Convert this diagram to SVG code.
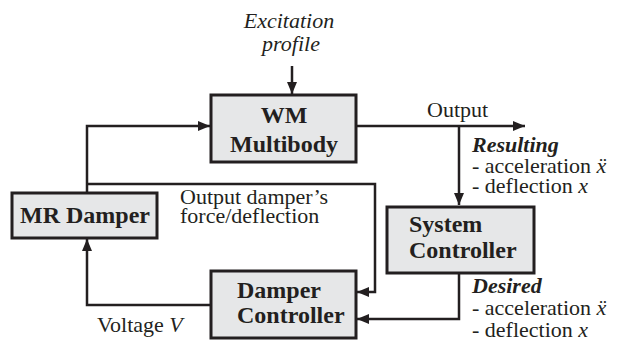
<svg xmlns="http://www.w3.org/2000/svg" width="620" height="342" viewBox="0 0 620 342">
<style>
text{font-family:'Liberation Serif','Times New Roman','DejaVu Serif',serif;fill:#231f20}
.bt{font-weight:bold;font-size:24px}
.t{font-size:22px}
.i{font-style:italic}
.b{font-weight:bold}
.box{fill:#e6e7e8;stroke:#231f20;stroke-width:3}
.ln{fill:none;stroke:#231f20;stroke-width:2.5}
</style>
<defs>
<marker id="ah" viewBox="0 0 12 10" refX="12" refY="5" markerWidth="12" markerHeight="10" markerUnits="userSpaceOnUse" orient="auto">
<path d="M0,0 L12,5 L0,10 Z" fill="#231f20"/>
</marker>
</defs>
<rect width="620" height="342" fill="#ffffff"/>
<g id="connectors">
<path class="ln" d="M292,66 V94" marker-end="url(#ah)"/>
<path class="ln" d="M87,193 V126 H210" marker-end="url(#ah)"/>
<path class="ln" d="M357,126 H525" marker-end="url(#ah)"/>
<path class="ln" d="M459,126 V205" marker-end="url(#ah)"/>
<path class="ln" d="M87,184 H375 V292 H357" marker-end="url(#ah)"/>
<path class="ln" d="M459,273 V319 H357" marker-end="url(#ah)"/>
<path class="ln" d="M211,305 H87 V239" marker-end="url(#ah)"/>
</g>
<g id="labels">
<text class="t i" x="289" y="28" text-anchor="middle">Excitation</text>
<text class="t i" x="291" y="51" text-anchor="middle">profile</text>
<text class="t" x="427" y="117">Output</text>
<text class="t i b" x="472" y="152">Resulting</text>
<text class="t" x="472" y="173">- acceleration <tspan class="i">ẍ</tspan></text>
<text class="t" x="472" y="193">- deflection <tspan class="i">x</tspan></text>
<text class="t" x="180" y="204">Output damper’s</text>
<text class="t" x="180" y="223">force/deflection</text>
<text class="t" x="97" y="332">Voltage <tspan class="i">V</tspan></text>
<text class="t i b" x="472" y="293">Desired</text>
<text class="t" x="472" y="315">- acceleration <tspan class="i">ẍ</tspan></text>
<text class="t" x="472" y="337">- deflection <tspan class="i">x</tspan></text>
</g>
<g id="wm">
<rect class="box" x="211" y="95" width="145" height="67"/>
<text class="bt" x="284" y="123" text-anchor="middle">WM</text>
<text class="bt" x="284" y="152" text-anchor="middle">Multibody</text>
</g>
<g id="mr">
<rect class="box" x="12" y="193" width="145" height="45"/>
<text class="bt" x="85" y="223" text-anchor="middle">MR Damper</text>
</g>
<g id="sys">
<rect class="box" x="387" y="207" width="147" height="66"/>
<text class="bt" x="409" y="232">System</text>
<text class="bt" x="409" y="258">Controller</text>
</g>
<g id="dc">
<rect class="box" x="211" y="271" width="145" height="67"/>
<text class="bt" x="237" y="298">Damper</text>
<text class="bt" x="237" y="323">Controller</text>
</g>
</svg>
